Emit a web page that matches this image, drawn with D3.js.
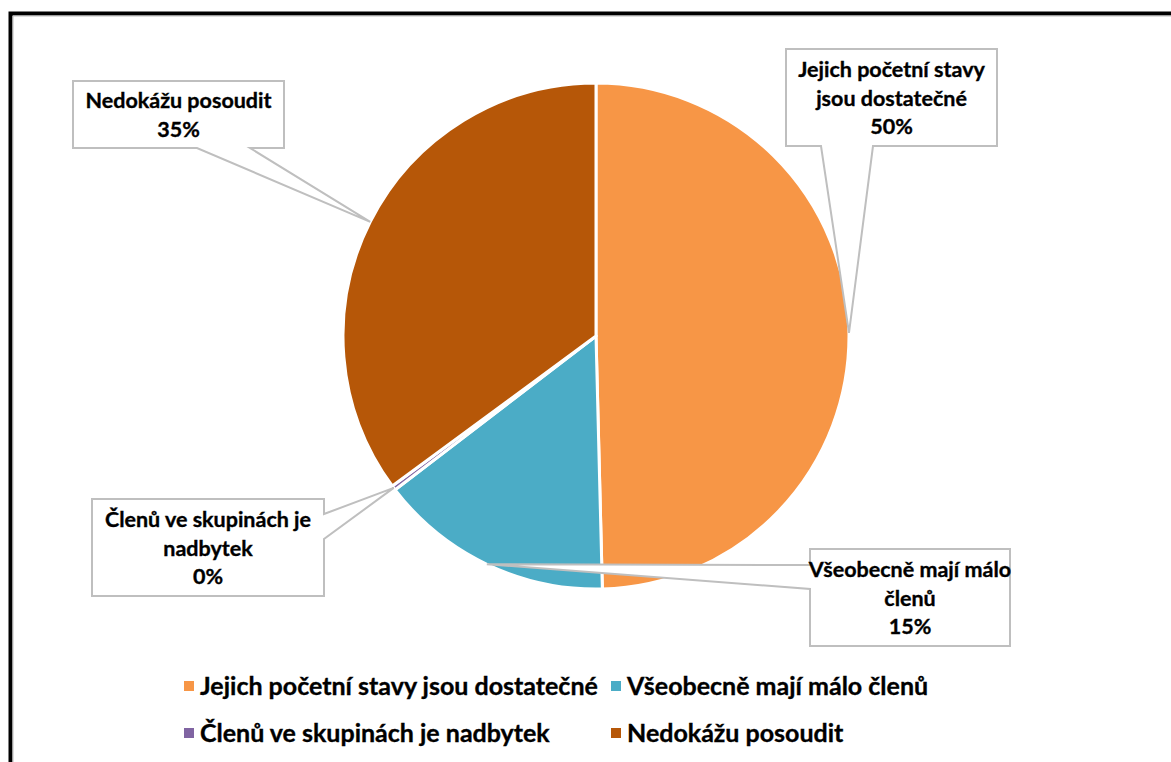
<!DOCTYPE html>
<html>
<head>
<meta charset="utf-8">
<script src="https://cdn.jsdelivr.net/npm/d3@7"></script>
<style>
  body { margin: 0; background: #fff; }
  text { font-family: Lato, "Open Sans", sans-serif; font-weight: bold; fill: #000; stroke: #000; stroke-width: 0.35px; }
</style>
</head>
<body>
<div id="chart"></div>
<script>
var svgWidth = 1171;
var svgHeight = 762;

// data
var categories = ["Jejich početní stavy jsou dostatečné", "Všeobecně mají málo členů", "Členů ve skupinách je nadbytek", "Nedokážu posoudit"];
var shares = [49.6, 15.0, 0.3, 35.1];
var percentLabels = ["50%", "15%", "0%", "35%"];
var labelLines = [
  ["Jejich početní stavy", "jsou dostatečné"],
  ["Všeobecně mají málo", "členů"],
  ["Členů ve skupinách je", "nadbytek"],
  ["Nedokážu posoudit"]
];
var colors = ["#F79646", "#4BACC6", "#8064A2", "#B65708"];

// callout boxes (layout only): x, y, w, h, side where the pointer leaves, pointer base offsets
var boxes = [
  { x: 786, y: 49, w: 211, h: 97, side: "bottom", a: 35, b: 87 },
  { x: 810, y: 549, w: 200, h: 97, side: "left", a: 16, b: 40 },
  { x: 92, y: 499, w: 232, h: 97, side: "right", a: 15, b: 40 },
  { x: 73, y: 81, w: 211, h: 67, side: "bottom", a: 124, b: 177 }
];

var cx = 596, cy = 336, radius = 253;

var svg = d3.select("#chart")
  .append("svg")
  .attr("width", svgWidth)
  .attr("height", svgHeight);

// outer frame
svg.append("path")
  .attr("d", "M10.5,1000 V13.5 H1200")
  .attr("fill", "none")
  .attr("stroke", "#000")
  .attr("stroke-width", 4);
svg.append("path")
  .attr("d", "M13,1000 V16 H1200")
  .attr("fill", "none")
  .attr("stroke", "#bbb")
  .attr("stroke-width", 1);

var pie = d3.pie().sort(null).value(d => d);
var arcs = pie(shares);

var arc = d3.arc().innerRadius(0).outerRadius(radius);
var edgeArc = d3.arc().innerRadius(radius).outerRadius(radius);

var pieGroup = svg.append("g")
  .attr("transform", `translate(${cx}, ${cy})`);

pieGroup.selectAll("path")
  .data(arcs)
  .enter()
  .append("path")
  .attr("d", arc)
  .attr("fill", (d, i) => colors[i])
  .attr("stroke", "#fff")
  .attr("stroke-width", 3)
  .attr("stroke-linejoin", "round");

// callouts
arcs.forEach(function(d, i) {
  var b = boxes[i];
  var c = edgeArc.centroid(d);
  var tx = cx + c[0], ty = cy + c[1];
  var x0 = b.x, y0 = b.y, x1 = b.x + b.w, y1 = b.y + b.h;
  var p;
  if (b.side === "bottom") {
    p = `M${x0},${y0} H${x1} V${y1} H${x0 + b.b} L${tx},${ty} L${x0 + b.a},${y1} H${x0} Z`;
  } else if (b.side === "right") {
    p = `M${x0},${y0} H${x1} V${y0 + b.a} L${tx},${ty} L${x1},${y0 + b.b} V${y1} H${x0} Z`;
  } else {
    p = `M${x0},${y0} H${x1} V${y1} H${x0} V${y0 + b.b} L${tx},${ty} L${x0},${y0 + b.a} Z`;
  }
  svg.append("path")
    .attr("d", p)
    .attr("fill", "#fff")
    .attr("stroke", "#bfbfbf")
    .attr("stroke-width", 2)
    .attr("stroke-linejoin", "miter");

  var lines = labelLines[i].concat([percentLabels[i]]);
  var lineH = 28.5;
  var firstBase = b.y + b.h / 2 - (lines.length - 1) * lineH / 2 + 8;
  var t = svg.append("text")
    .attr("text-anchor", "middle")
    .style("font-size", "21.5px");
  lines.forEach(function(l, k) {
    t.append("tspan")
      .attr("x", b.x + b.w / 2)
      .attr("y", firstBase + k * lineH)
      .text(l);
  });
});

// legend
var legendX = [184, 611];
var legendY = [686, 733];
var legend = svg.append("g");
categories.forEach(function(name, i) {
  var lx = legendX[i % 2], ly = legendY[Math.floor(i / 2)];
  legend.append("rect")
    .attr("x", lx)
    .attr("y", ly - 5)
    .attr("width", 10)
    .attr("height", 10)
    .attr("fill", colors[i]);
  legend.append("text")
    .attr("x", lx + 16)
    .attr("y", ly + 9)
    .style("font-size", "25px")
    .text(name);
});
</script>
</body>
</html>
